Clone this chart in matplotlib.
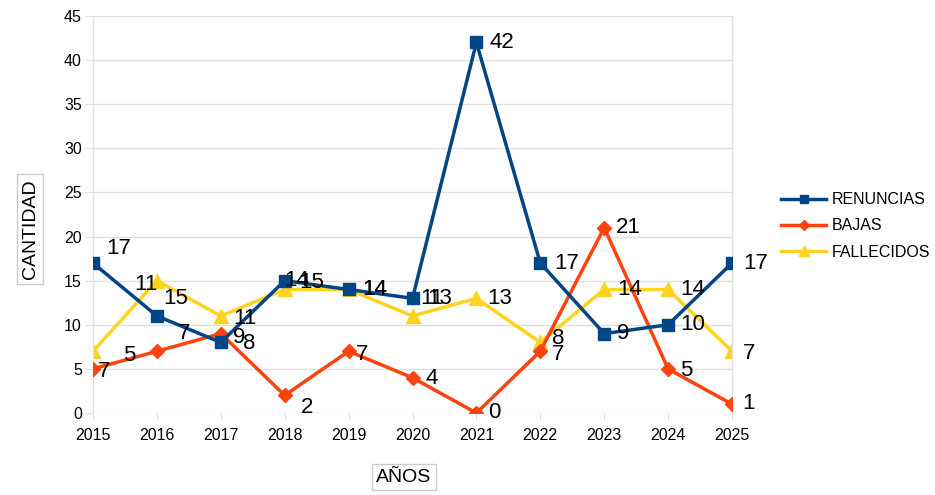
import matplotlib
matplotlib.use("Agg")
import matplotlib.pyplot as plt

years = [2015, 2016, 2017, 2018, 2019, 2020, 2021, 2022, 2023, 2024, 2025]
renuncias = [17, 11, 8, 15, 14, 13, 42, 17, 9, 10, 17]
bajas = [5, 7, 9, 2, 7, 4, 0, 7, 21, 5, 1]
fallecidos = [7, 15, 11, 14, 14, 11, 13, 8, 14, 14, 7]

# label offsets (pixels, dx right, dy down) relative to each point
off_ren = [(26, -15), (-11, -31), (28, 1), (27, 2), (26, 0), (27, 0), (25, 0), (26, 0), (19, 0), (25, 0), (24, 0)]
off_baj = [(36, -13), (27, -18), (18, 4), (22, 12), (13, 3), (19, 1), (18, 0), (18, 3), (24, 0), (18, 2), (17, -1)]
off_fal = [(11, 20), (19, 18), (24, 3), (12, -9), (26, 0), (19, -17), (23, 0), (18, -4), (25, 0), (25, 0), (17, 2)]

plt.rcParams['font.family'] = ['Liberation Sans', 'DejaVu Sans']

fig = plt.figure(figsize=(9.35, 4.95), dpi=100)
ax = fig.add_axes([93/935, 1-413/495, (732-93)/935, (413-16)/495])

c_ren = '#004586'
c_baj = '#ff420e'
c_fal = '#ffd320'

ax.plot(years, renuncias, color=c_ren, lw=2.5, marker='s', ms=9, label='RENUNCIAS', zorder=4)
ax.plot(years, bajas, color=c_baj, lw=2.5, marker='D', ms=7, label='BAJAS', zorder=3)
ax.plot(years, fallecidos, color=c_fal, lw=2.5, marker='^', ms=10, label='FALLECIDOS', zorder=2)

for vals, offs in ((renuncias, off_ren), (bajas, off_baj), (fallecidos, off_fal)):
    for x, v, (dx, dy) in zip(years, vals, offs):
        ax.annotate(str(v), (x, v), xytext=(dx, -dy), textcoords='offset pixels',
                    ha='center', va='center', fontsize=16, color='black', zorder=6)

ax.set_xlim(2015, 2025)
ax.set_ylim(0, 45)
ax.set_xticks(years)
ax.set_xticklabels([str(y) for y in years])
ax.set_yticks(range(0, 46, 5))
ax.yaxis.grid(True, color='#e0e0e0', lw=1)
ax.set_axisbelow(True)
for s in ('top', 'bottom'):
    ax.spines[s].set_visible(False)
for s in ('left', 'right'):
    ax.spines[s].set_color('#e0e0e0')
    ax.spines[s].set_linewidth(1)
ax.tick_params(axis='y', colors='#e0e0e0', labelcolor='black', length=6, labelsize=11.5, pad=2)
ax.tick_params(axis='x', colors='#e0e0e0', labelcolor='black', length=5, labelsize=11.5, pad=6)

fig.text(30/935, 1-229/495, 'CANTIDAD', rotation=90, ha='center', va='center', fontsize=14,
         bbox=dict(boxstyle='square,pad=0.25', fc='white', ec='#cccccc', lw=1))
fig.text(404/935, 1-477/495, 'AÑOS', ha='center', va='center', fontsize=14,
         bbox=dict(boxstyle='square,pad=0.25', fc='white', ec='#cccccc', lw=1))

leg = fig.legend(loc='center left', bbox_to_anchor=(767/935, 1-226/495), frameon=False,
                 fontsize=11.5, handlelength=2.8, handletextpad=0.35, labelspacing=0.7, markerscale=0.7)

fig.savefig('out.png', dpi=100)
